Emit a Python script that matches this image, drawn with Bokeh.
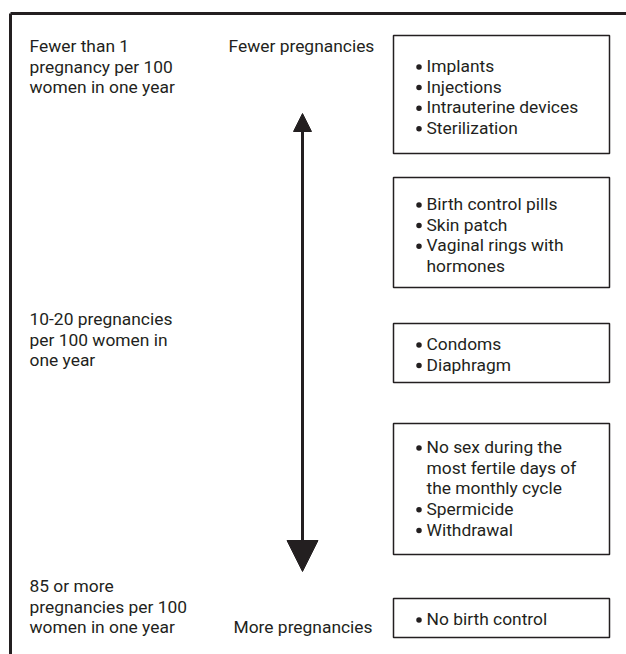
from bokeh.plotting import figure
from bokeh.models import Arrow, NormalHead
from bokeh.core.properties import value
from bokeh.embed import file_html
from bokeh.resources import INLINE

# ---- content ----
rate_labels = [
    ["Fewer than 1", "pregnancy per 100", "women in one year"],
    ["10-20 pregnancies", "per 100 women in", "one year"],
    ["85 or more", "pregnancies per 100", "women in one year"],
]
scale_ends = ["Fewer pregnancies", "More pregnancies"]
method_groups = [
    [["Implants"], ["Injections"], ["Intrauterine devices"], ["Sterilization"]],
    [["Birth control pills"], ["Skin patch"], ["Vaginal rings with", "hormones"]],
    [["Condoms"], ["Diaphragm"]],
    [["No sex during the", "most fertile days of", "the monthly cycle"], ["Spermicide"], ["Withdrawal"]],
    [["No birth control"]],
]

# ---- layout (page pixel coordinates) ----
W, H = 626, 654
FONT = "Roboto"
FS = "17.4px"
INK = "#231f20"
LINE_H = 20.6
TEXT_SHIFT = -6.3   # renderer places alphabetic baseline slightly low

rate_first_baseline = [52, 325, 592]
rate_x = 29
end_pos = [(228, 52), (233, 633)]
box_left, box_right = 393, 609
box_tops = [35, 177, 323, 423, 598]
box_bottoms = [153, 287, 382, 554, 637]
box_first_baseline = [72, 210, 350, 453, 625]
bullet_x, bullet_rise, item_x = 418.5, 5.5, 426
arrow_x, arrow_top, arrow_bottom = 302, 113, 571

p = figure(width=W, height=H, x_range=(0, W), y_range=(H, 0),
           x_axis_type=None, y_axis_type=None, toolbar_location=None,
           output_backend="svg", min_border=0, outline_line_color=None,
           background_fill_color="white", border_fill_color="white")
p.grid.visible = False

# outer frame (top and left edges)
p.line(x=[10, 660], y=[13, 13], line_color=INK, line_width=3)
p.line(x=[10, 10], y=[13, 700], line_color=INK, line_width=3)

# left rate labels
lx, ly, lt = [], [], []
for lines, b in zip(rate_labels, rate_first_baseline):
    for i, t in enumerate(lines):
        lx.append(rate_x); ly.append(b + i * LINE_H + TEXT_SHIFT); lt.append(t)
# scale end labels
for t, (x, y) in zip(scale_ends, end_pos):
    lx.append(x); ly.append(y + TEXT_SHIFT); lt.append(t)
p.text(x=lx, y=ly, text=lt, text_font=value(FONT), text_font_size=FS,
       text_color=INK, text_baseline="alphabetic", text_align="left")

# boxes
p.quad(left=[box_left] * len(box_tops), right=[box_right] * len(box_tops),
       top=box_tops, bottom=box_bottoms, fill_color="white",
       line_color=INK, line_width=1.5)

bx, by, ix, iy, it = [], [], [], [], []
for group, b in zip(method_groups, box_first_baseline):
    row = 0
    for item in group:
        bx.append(bullet_x); by.append(b + row * LINE_H - bullet_rise)
        for t in item:
            ix.append(item_x); iy.append(b + row * LINE_H + TEXT_SHIFT); it.append(t)
            row += 1
p.scatter(x=bx, y=by, marker="circle", size=5.5, fill_color=INK, line_color=None)
p.text(x=ix, y=iy, text=it, text_font=value(FONT), text_font_size=FS,
       text_color=INK, text_baseline="alphabetic", text_align="left")

# double-headed arrow
p.add_layout(Arrow(x_start=arrow_x, y_start=arrow_top, x_end=arrow_x, y_end=arrow_bottom,
                   line_color=INK, line_width=3,
                   start=NormalHead(size=18, fill_color=INK, line_color=INK, line_width=1),
                   end=NormalHead(size=31, fill_color=INK, line_color=INK, line_width=1)))

open("out.html", "w").write(file_html(p, INLINE))
